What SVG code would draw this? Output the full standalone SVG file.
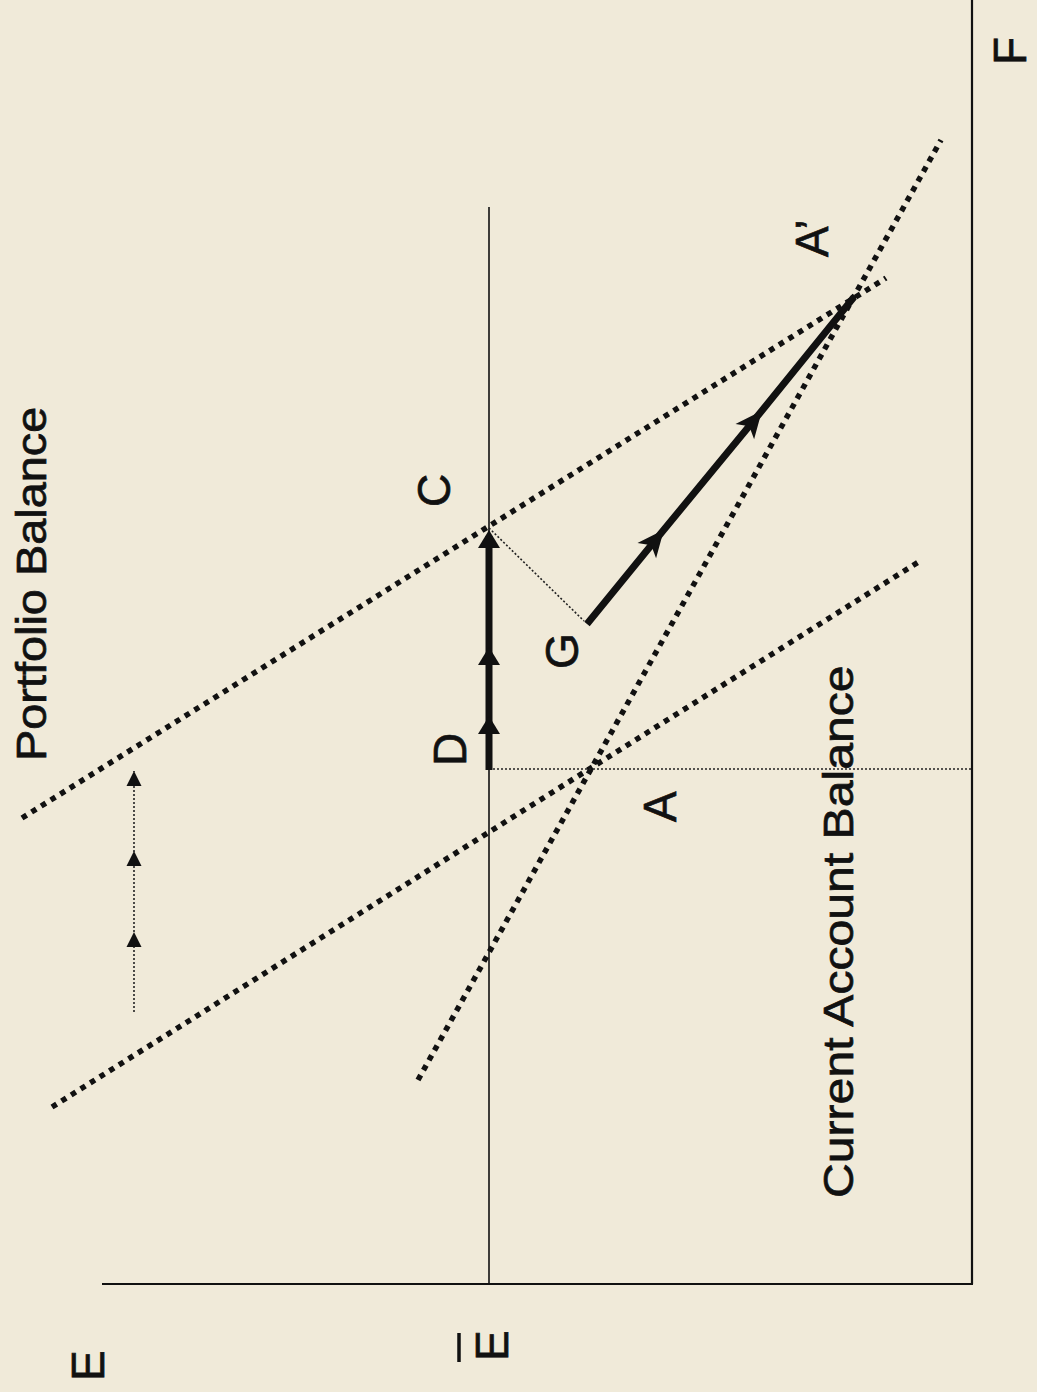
<svg xmlns="http://www.w3.org/2000/svg" width="1037" height="1392" viewBox="0 0 1037 1392">
<style>
.lbl{font-family:"Liberation Sans",Arial,Helvetica,sans-serif;fill:#111;stroke:#111;stroke-width:0.7;}
.big{font-size:43px;}
.let{font-size:46px;}
.axis{stroke:#111;stroke-width:2.2;fill:none;}
.thin{stroke:#111;stroke-width:1.6;fill:none;}
.dotbig{stroke:#111;stroke-width:5.5;stroke-dasharray:5.5 5.8;fill:none;}
.dotthin{stroke:#222;stroke-width:1.6;stroke-dasharray:2 2;fill:none;}
.thick{stroke:#111;stroke-width:7;fill:none;}
</style>
<defs>
<marker id="ahBig" markerUnits="userSpaceOnUse" viewBox="-20 -12 28 24" refX="-6" refY="0" markerWidth="28" markerHeight="24" orient="auto">
<path d="M0,0 L-18,-11 L-18,11 Z" fill="#111"/>
</marker>
<marker id="ahSlant" markerUnits="userSpaceOnUse" viewBox="-28 -14 32 28" refX="0" refY="0" markerWidth="32" markerHeight="28" orient="auto">
<path d="M3,0 L-24,-12 L-17,0 L-24,12 Z" fill="#111"/>
</marker>
<marker id="ahSmall" markerUnits="userSpaceOnUse" viewBox="-16 -8 17 16" refX="0" refY="0" markerWidth="17" markerHeight="16" orient="auto">
<path d="M0,0 L-15,-7.5 L-15,7.5 Z" fill="#111"/>
</marker>
</defs>
<rect x="0" y="0" width="1037" height="1392" fill="#f0ead9"/>

<g id="axes">
<line class="axis" x1="972" y1="0" x2="972" y2="1284"/>
<line class="axis" x1="102" y1="1284" x2="973" y2="1284"/>
<line class="thin" x1="489" y1="207" x2="489" y2="1284"/>
</g>

<g id="connectors">
<line id="portfolio-1" class="dotbig" x1="22" y1="818" x2="886" y2="278"/>
<line id="portfolio-2" class="dotbig" x1="52" y1="1107" x2="920" y2="561"/>
<line id="current-account" class="dotbig" x1="418" y1="1080" x2="941" y2="140"/>
<line id="a-line" class="dotthin" x1="489" y1="769" x2="972" y2="769"/>
<line id="c-g" class="dotthin" x1="489" y1="528" x2="584" y2="621"/>
<polyline id="d-c" class="thick" points="489,770 489,722 489,653 489,536" marker-mid="url(#ahBig)" marker-end="url(#ahBig)"/>
<polyline id="g-a2" class="thick" points="587,624 662,532 760,413 854,297" marker-mid="url(#ahSlant)"/>
<polyline id="shift" class="dotthin" points="134,1012 134,932 134,851 134,771" marker-mid="url(#ahSmall)" marker-end="url(#ahSmall)"/>
</g>

<g id="label-portfolio"><text class="lbl big" transform="translate(46,761) rotate(-90) scale(1.09,1)">Portfolio Balance</text></g>
<g id="label-current"><text class="lbl big" transform="translate(853,1198) rotate(-90) scale(1.12,1)">Current Account Balance</text></g>
<g id="node-C"><text class="lbl let" transform="translate(450,507) rotate(-90)">C</text></g>
<g id="node-G"><text class="lbl let" transform="translate(578,669) rotate(-90)">G</text></g>
<g id="node-D"><text class="lbl let" transform="translate(466,766) rotate(-90)">D</text></g>
<g id="node-A"><text class="lbl let" transform="translate(676,822) rotate(-90)">A</text></g>
<g id="node-A2"><text class="lbl let" transform="translate(828,257) rotate(-90)">A’</text></g>
<g id="label-E"><text class="lbl let" transform="translate(104,1381) rotate(-90)">E</text></g>
<g id="label-Ebar"><line x1="459" y1="1333" x2="459" y2="1362" stroke="#111" stroke-width="3.5"/><text class="lbl let" transform="translate(508,1361) rotate(-90)">E</text></g>
<g id="label-F"><text class="lbl let" transform="translate(1026,65) rotate(-90)">F</text></g>
</svg>
